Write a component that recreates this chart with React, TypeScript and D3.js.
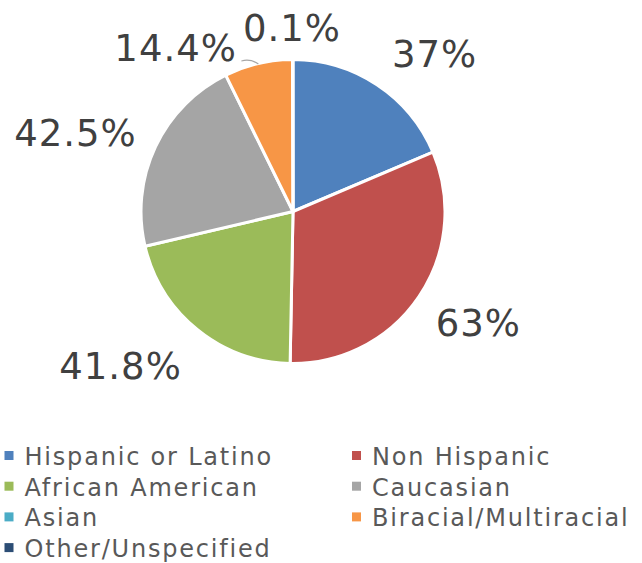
import React from "react";
import * as d3 from "d3";

const categories = [
  "Hispanic or Latino",
  "Non Hispanic",
  "African American",
  "Caucasian",
  "Asian",
  "Biracial/Multiracial",
  "Other/Unspecified",
];
const values = [37, 63, 41.8, 42.5, 0, 14.4, 0.1];
const labels = ["37%", "63%", "41.8%", "42.5%", "", "14.4%", "0.1%"];
const colors = ["#4f81bd", "#c0504d", "#9bbb59", "#a5a5a5", "#4bacc6", "#f79646", "#2c4d75"];

// label placement (angle in degrees clockwise from top, distance from centre)
const labelAngle = [41.7, 120.9, 228.4, 289.9, 0, 324.3, 359.5];
const labelRadius = [212, 215.5, 231.3, 231.9, 0, 202, 184];

const W = 642;
const H = 563;
const cx = 293;
const cy = 211.5;
const R = 152;
const labelSize = 37;
const legendSize = 24;

export default function App() {
  const pie = d3.pie<number>().sort(null).value((d) => d)(values);
  const arc = d3.arc<d3.PieArcDatum<number>>().innerRadius(0).outerRadius(R);

  const legendX = [4.5, 352];
  const legendY0 = 465;
  const legendStep = 30.7;

  const lp = (i: number) => {
    const a = (labelAngle[i] * Math.PI) / 180;
    return [cx + labelRadius[i] * Math.sin(a), cy - labelRadius[i] * Math.cos(a)];
  };
  const [ox, oy] = lp(6);

  return (
    <svg
      width={W}
      height={H}
      style={{ position: "absolute", left: 0, top: 0, background: "#fff" }}
      fontFamily="'DejaVu Sans', Verdana, sans-serif"
    >
      <g transform={`translate(${cx},${cy})`}>
        {pie.map((d, i) =>
          d.value > 0 ? (
            <path key={i} d={arc(d) || ""} fill={colors[i]} stroke="#fff" strokeWidth={3} strokeLinejoin="round" />
          ) : null
        )}
      </g>
      <path
        d={`M${ox - 50},${oy + 33.5} Q${ox - 41},${oy + 31} ${ox - 33},${oy + 36.5}`}
        fill="none"
        stroke="#a6a6a6"
        strokeWidth={1.2}
      />
      {labels.map((t, i) => {
        if (!t) return null;
        const [x, y] = lp(i);
        return (
          <text
            key={i}
            x={x + 0.5}
            y={y + labelSize * 0.364}
            textAnchor="middle"
            fontSize={labelSize}
            letterSpacing={1}
            fill="#404040"
          >
            {t}
          </text>
        );
      })}
      {categories.map((c, i) => {
        const col = i % 2;
        const row = Math.floor(i / 2);
        const x = legendX[col];
        const y = legendY0 + row * legendStep;
        return (
          <g key={c}>
            <rect x={x} y={y - 14} width={9} height={9} fill={colors[i]} />
            <text x={x + 20} y={y} fontSize={legendSize} letterSpacing={1.8} fill="#595959">
              {c}
            </text>
          </g>
        );
      })}
    </svg>
  );
}
